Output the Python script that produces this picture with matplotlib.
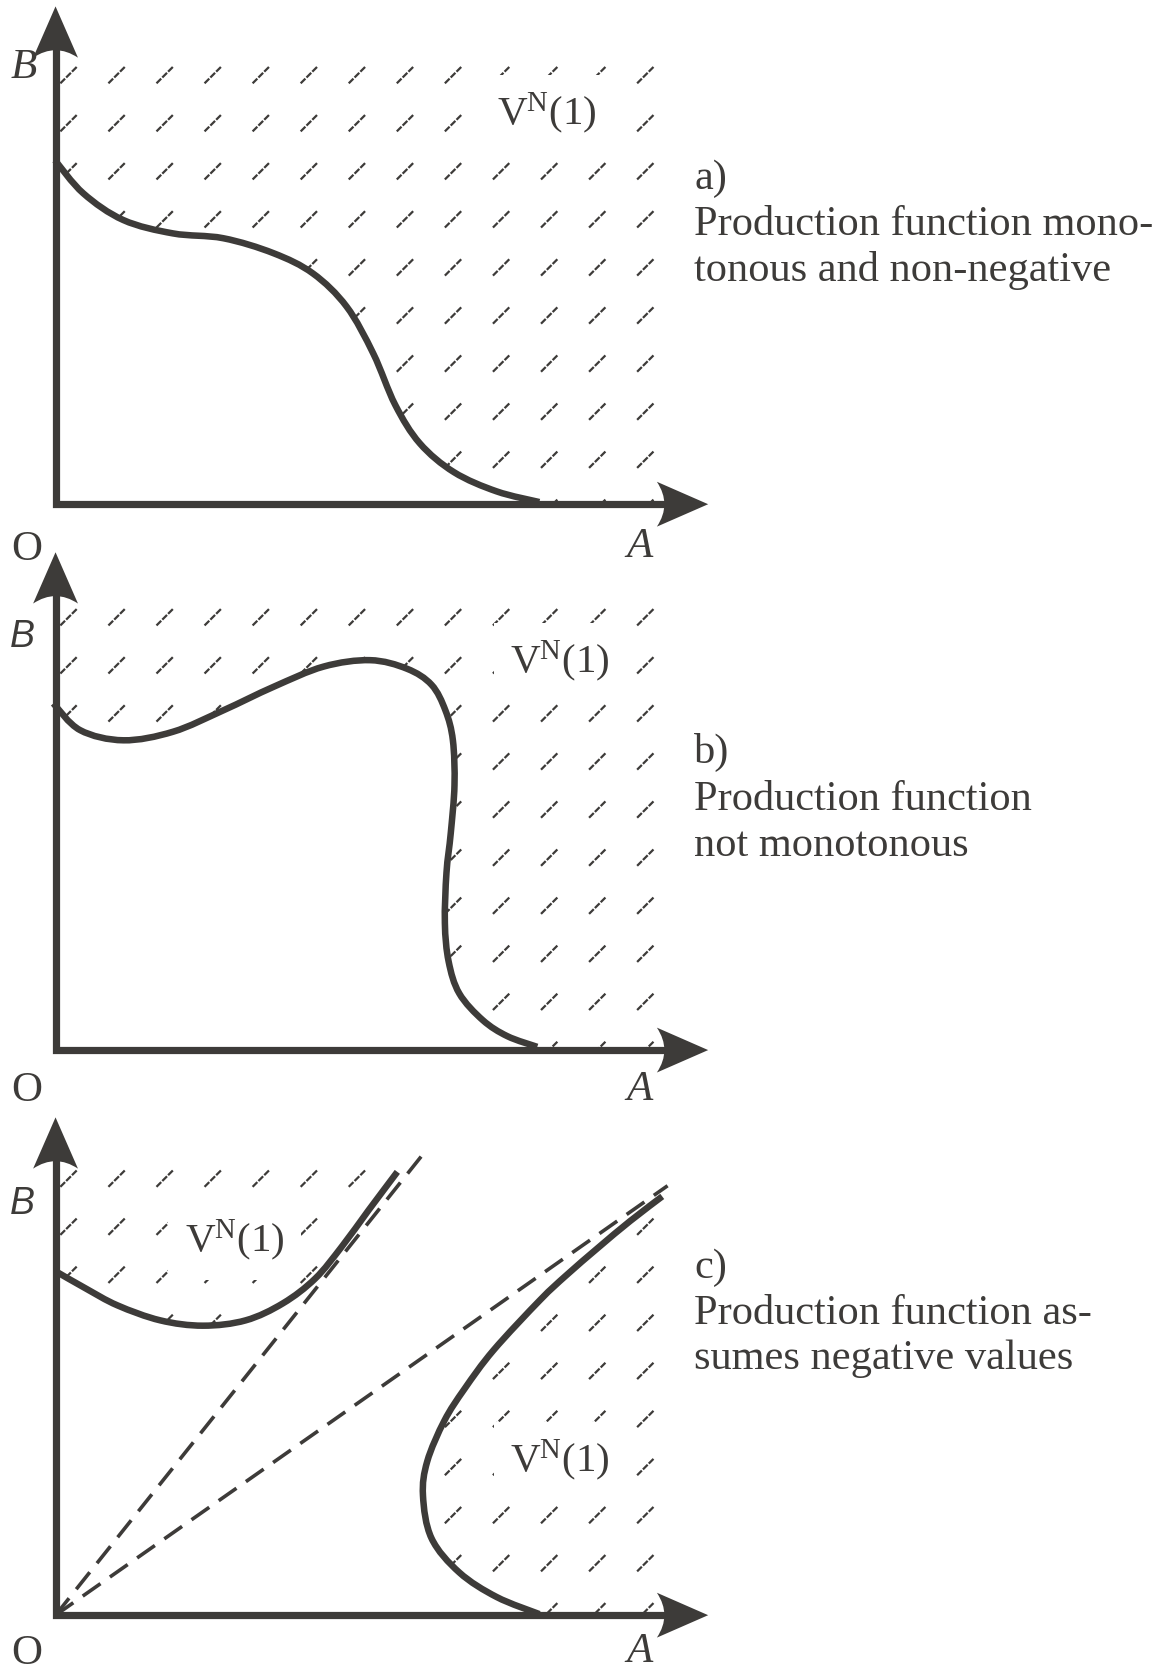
import numpy as np
import matplotlib
matplotlib.use('Agg')
import matplotlib.pyplot as plt
from matplotlib.path import Path
from matplotlib.patches import PathPatch
from matplotlib.collections import LineCollection

plt.rcParams['font.family'] = ['Liberation Serif', 'DejaVu Serif']
plt.rcParams['mathtext.fontset'] = 'custom'
plt.rcParams['mathtext.rm'] = 'Liberation Serif'
plt.rcParams['mathtext.it'] = 'Liberation Serif:italic'

INK = '#3d3b39'
W, H = 1101, 1568  # drawing units

# ---------------- data ----------------
origin_x = 52
origin_y = [472, 983, 1512]          # panels a, b, c
axis_len_y = 466
x_tip = 663

curve_a_x = [51.5, 78, 115.5, 162, 209, 256, 293, 324.5, 349.5, 370, 393, 425, 465, 505]
curve_a_y = [150, 181, 206, 218.5, 223, 237, 256, 287, 331, 379, 415, 442, 460, 470]

curve_b_x = [50, 75, 115.5, 162, 209, 256, 303, 346.5, 381, 404, 417, 424, 425.5, 422, 418, 416.5, 420, 430, 452, 475, 503]
curve_b_y = [658.5, 683.5, 693, 685, 665, 643, 624, 618, 626, 641, 665, 693, 735, 780, 817, 864, 900, 930, 955, 970, 980]

curve_c_up_x = [52, 80, 110, 150, 190, 230, 265, 295, 320, 345, 372]
curve_c_up_y = [1190, 1206, 1222, 1236, 1241, 1236, 1220, 1197, 1167, 1133, 1097]

curve_c_low_x = [620, 590, 560, 530, 505.6, 462, 435, 416, 400, 396, 404, 430, 465, 505]
curve_c_low_y = [1120, 1143, 1168, 1194, 1217, 1264, 1300, 1330, 1368, 1400, 1440, 1472, 1495, 1511]

dash1_end = (398, 1078)
dash2_end = (625, 1110)

hatch_x0, hatch_dx, hatch_ncols = 64.5, 45.0, 13
hatch_row0 = [70, 577.5, 1103]
hatch_dy, hatch_nrows = 45.0, 10
hatch_top = [55, 565, 1090]
hatch_right = 620

label_text = ['a)', 'Production function mono-', 'tonous and non-negative',
              'b)', 'Production function', 'not monotonous',
              'c)', 'Production function as-', 'sumes negative values']
label_base = [177, 220, 263, 714, 758, 801, 1196, 1239, 1282]
label_x = 650

vn_x = [465, 477.5, 173, 477.5]
vn_base = [117, 630, 1172, 1378]

# ---------------- helpers ----------------
def bezier_through(xs, ys):
    P = np.column_stack([xs, ys]).astype(float)
    n = len(P)
    verts = [P[0]]
    codes = [Path.MOVETO]
    for i in range(n - 1):
        p0 = P[i - 1] if i > 0 else P[i]
        p1, p2 = P[i], P[i + 1]
        p3 = P[i + 2] if i + 2 < n else P[i + 1]
        c1 = p1 + (p2 - p0) / 6.0
        c2 = p2 - (p3 - p1) / 6.0
        verts += [c1, c2, p2]
        codes += [Path.CURVE4] * 3
    return verts, codes


def arrowhead(tip, direction, length=48, half=21, notch=7):
    d = np.array(direction, float)
    d /= np.linalg.norm(d)
    nrm = np.array([-d[1], d[0]])
    tip = np.array(tip, float)
    base = tip - length * d
    c1 = base + half * nrm
    c2 = base - half * nrm
    ctrl = base + 2 * notch * d
    verts = [tip, c1, ctrl, c2, tip]
    codes = [Path.MOVETO, Path.LINETO, Path.CURVE3, Path.CURVE3, Path.CLOSEPOLY]
    ax.add_patch(PathPatch(Path(verts, codes), fc=INK, ec='none', zorder=6))


def hatch(clip_path, row0):
    segs = []
    for j in range(hatch_nrows):
        y = row0 + j * hatch_dy
        for i in range(hatch_ncols):
            x = hatch_x0 + i * hatch_dx
            segs.append([(x - 8, y + 8), (x + 8, y - 8)])
    lc = LineCollection(segs, colors=INK, linewidths=1.6,
                        linestyles=[(0, (3.0, 0.7))], zorder=2)
    ax.add_collection(lc)
    patch = PathPatch(clip_path, fc='none', ec='none')
    ax.add_patch(patch)
    lc.set_clip_path(patch)


def draw_curve(xs, ys):
    v, c = bezier_through(xs, ys)
    ax.add_patch(PathPatch(Path(v, c), fc='none', ec=INK, lw=4.7,
                           capstyle='butt', zorder=5))
    return v, c


def draw_axes(oy):
    ax.plot([origin_x, origin_x, x_tip - 35], [oy - axis_len_y + 35, oy, oy],
            color=INK, lw=5.2, solid_joinstyle='miter', solid_capstyle='butt', zorder=5)
    arrowhead((origin_x, oy - axis_len_y), (0, -1))
    arrowhead((x_tip, oy), (1, 0))


# ---------------- figure ----------------
fig = plt.figure(figsize=(11.76, 16.75), dpi=100)
ax = fig.add_axes([0, 0, 1, 1])
ax.set_xlim(0, W)
ax.set_ylim(H, 0)
ax.axis('off')

for oy in origin_y:
    draw_axes(oy)

# panel a and b curves + hatching
for k, (cx, cy) in enumerate([(curve_a_x, curve_a_y), (curve_b_x, curve_b_y)]):
    oy = origin_y[k]
    v, c = draw_curve(cx, cy)
    verts = [(origin_x, hatch_top[k]), (cx[0], cy[0])] + list(v[1:]) + \
            [(hatch_right, oy), (hatch_right, hatch_top[k]), (0, 0)]
    codes = [Path.MOVETO, Path.LINETO] + list(c[1:]) + \
            [Path.LINETO, Path.LINETO, Path.CLOSEPOLY]
    hatch(Path(verts, codes), hatch_row0[k])

# panel c
oy = origin_y[2]
v, c = draw_curve(curve_c_up_x, curve_c_up_y)
verts = [(origin_x, hatch_top[2]), (curve_c_up_x[0], curve_c_up_y[0])] + list(v[1:]) + \
        [(curve_c_up_x[-1], hatch_top[2]), (0, 0)]
codes = [Path.MOVETO, Path.LINETO] + list(c[1:]) + [Path.LINETO, Path.CLOSEPOLY]
hatch(Path(verts, codes), hatch_row0[2])

v, c = draw_curve(curve_c_low_x, curve_c_low_y)
verts = list(v) + [(hatch_right, oy), (0, 0)]
codes = list(c) + [Path.LINETO, Path.CLOSEPOLY]
hatch(Path(verts, codes), hatch_row0[2])

for end in (dash1_end, dash2_end):
    ax.plot([origin_x, end[0]], [oy, end[1]], color=INK, lw=2.6,
            linestyle=(0, (6.0, 3.2)), zorder=4)

# ---------------- texts ----------------
for t, yb in zip(label_text, label_base):
    ax.text(label_x, yb, t, fontsize=30.5, color=INK, ha='left', va='baseline')

for xv, yb in zip(vn_x, vn_base):
    ax.text(xv, yb, r'V$^{\mathrm{N}}$(1)', fontsize=29.5, color=INK,
            ha='left', va='baseline', zorder=3,
            bbox=dict(facecolor='white', edgecolor='none', boxstyle='square,pad=0.4'))

# axis letters
ax.text(9.5, 73, 'B', fontsize=31, style='italic', color=INK, ha='left', va='baseline')
for yb in (606, 1136):
    ax.text(9.5, yb, 'B', fontsize=27, style='italic', color=INK, ha='left',
            va='baseline', family=['Liberation Sans', 'DejaVu Sans'])
for yb in (524, 1031, 1558):
    ax.text(11, yb, 'O', fontsize=31, color=INK, ha='left', va='baseline')
for yb in (521, 1030, 1556):
    ax.text(586, yb, 'A', fontsize=31, style='italic', color=INK, ha='left', va='baseline')

fig.savefig('out.png', dpi=100, facecolor='white')
